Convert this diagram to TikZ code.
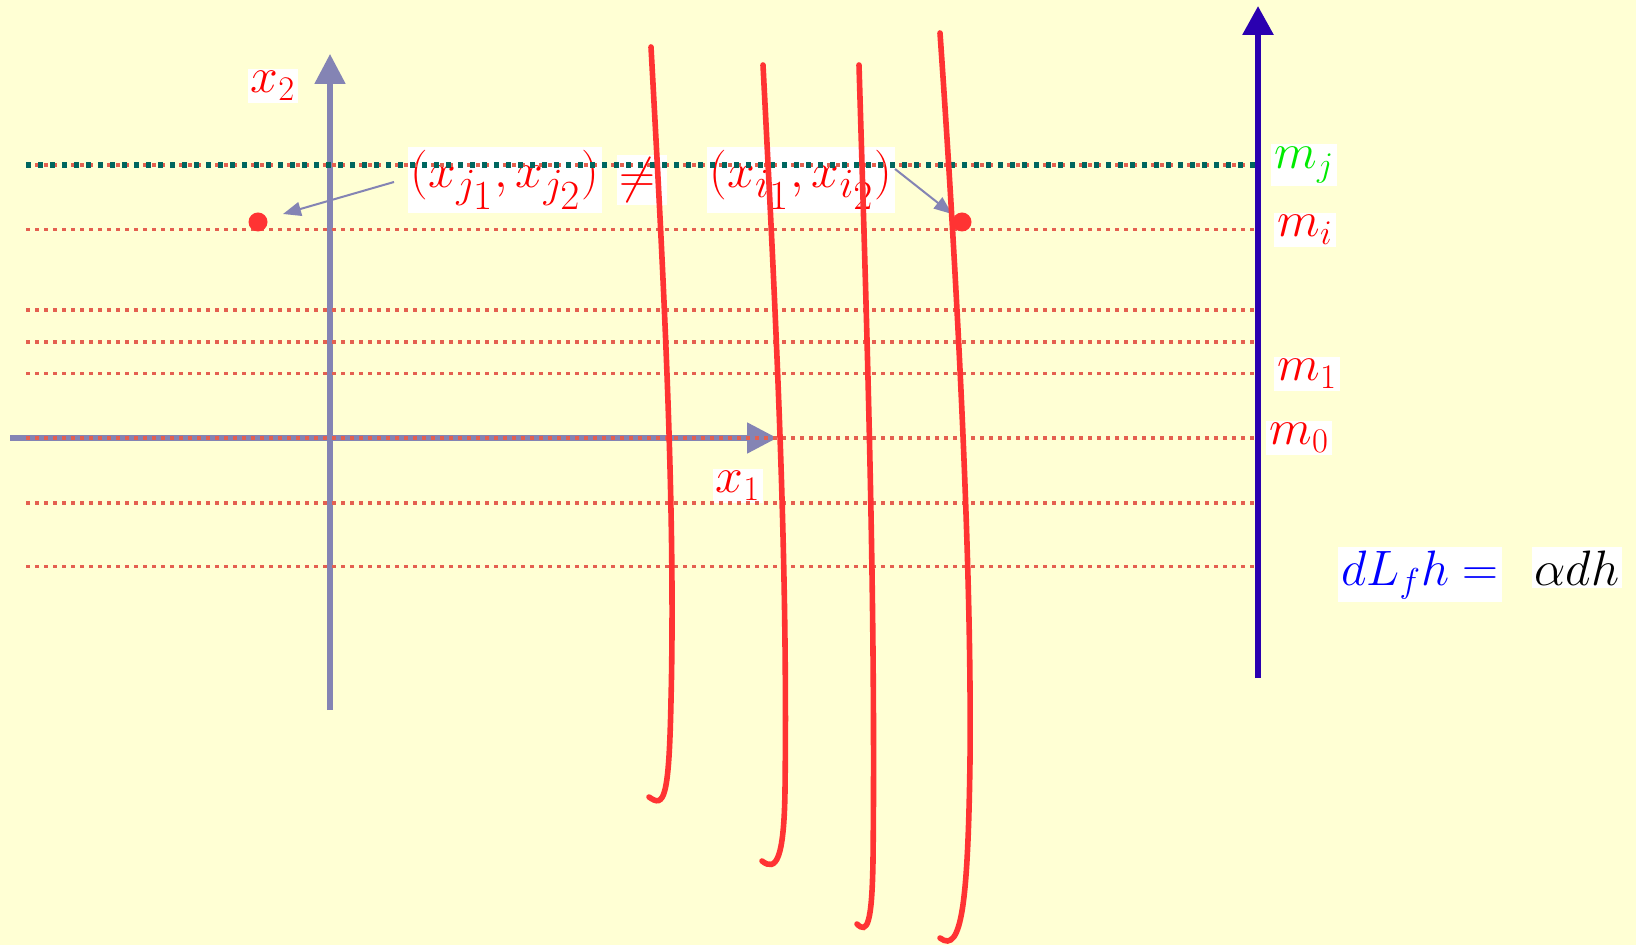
\documentclass[tikz,border=0pt]{standalone}
\usetikzlibrary{arrows.meta}
\definecolor{bg}{RGB}{255,255,212}
\definecolor{axisgray}{RGB}{132,132,180}
\definecolor{dotred}{RGB}{228,96,80}
\definecolor{tealdot}{RGB}{0,102,95}
\definecolor{curvered}{RGB}{255,51,51}
\definecolor{axisblue}{RGB}{42,0,176}
\definecolor{mgreen}{RGB}{0,235,0}
\begin{document}
\begin{tikzpicture}[x=0.5pt,y=-0.5pt,
  lbl/.style={fill=white,inner sep=1.5pt,font=\fontsize{25}{30}\selectfont},
  biglbl/.style={lbl,font=\fontsize{28}{33}\selectfont},
  level/.style={draw=dotred,line width=1.8pt,dash pattern=on 1.8pt off 2.7pt},
  tealline/.style={draw=tealdot,line width=2.6pt,dash pattern=on 2.6pt off 3.4pt},
  grayaxis/.style={draw=axisgray,line width=2.6pt,-{Triangle[length=15pt,width=15pt]}},
  blueaxis/.style={draw=axisblue,line width=3pt,-{Triangle[length=14.5pt,width=15pt]}},
  pointer/.style={draw=axisgray,line width=1pt,-{Triangle[length=9pt,width=7pt]}},
  surf/.style={draw=curvered,line width=2.8pt,line cap=round},
  pt/.style={circle,fill=curvered,inner sep=0pt,minimum size=9.5pt}]
\useasboundingbox[fill=bg] (0,0) rectangle (1636,945);

% coordinates
\coordinate (x1s) at (10,438);
\coordinate (x1e) at (777,438);
\coordinate (x2s) at (330,710);
\coordinate (x2e) at (330,54);
\coordinate (ms) at (1258,678);
\coordinate (me) at (1258,6);

% gray axes
\draw[grayaxis] (x1s) -- (x1e);
\draw[grayaxis] (x2s) -- (x2e);

% labels
\node[lbl,text=red] (lx2) at (273,86) {$x_2$};
\node[lbl,text=red] (lx1) at (738,486) {$x_1$};
\node[biglbl,text=red] (pj) at (505,180) {$(x_{j_{\scriptstyle 1}},x_{j_{\scriptstyle 2}})$};
\node[biglbl,text=red] (neq) at (642,180) {$\neq\,$};
\node[biglbl,text=red] (pi) at (801,180) {$(x_{i_{\scriptstyle 1}},x_{i_{\scriptstyle 2}})$};
\node[lbl,text=mgreen,anchor=west] (mj) at (1271,165) {$m_j$};
\node[lbl,text=red,anchor=west] (mi) at (1274,230) {$m_i$};
\node[lbl,text=red,anchor=west] (m1) at (1274,374) {$m_1$};
\node[lbl,text=red,anchor=west] (m0) at (1266,438) {$m_0$};
\node[lbl,text=blue,anchor=base] (eql) at (1420,585) {$dL_fh=$};
\node[lbl,text=black,anchor=base] (eqr) at (1577,585) {$\alpha dh$};

% level lines
\foreach \yy/\nm in {165/a,229.5/b,310/c,342/d,373.5/e,438/f,503/g,566.5/h}{
  \coordinate (L\nm) at (26,\yy);
  \coordinate (R\nm) at (1257,\yy);
  \draw[level] (L\nm) -- (R\nm);
}
\draw[tealline] (La) -- (Ra);

% blue axis
\draw[blueaxis] (ms) -- (me);

% points and pointers
\node[pt] (pa) at (258,222) {};
\node[pt] (pb) at (962,222) {};
\coordinate (sa) at (394,182);
\coordinate (ta) at (283,214);
\coordinate (sb) at (895,169);
\coordinate (tb) at (952,214);
\draw[pointer] (sa) -- (ta);
\draw[pointer] (sb) -- (tb);

% red curves
\coordinate (c1) at (651,47);
\coordinate (c2) at (763,65);
\coordinate (c3) at (859,65);
\coordinate (c4) at (940,33);
\draw[surf] (c1) .. controls (662,250) and (676,500) .. (671,700)
  .. controls (669,800) and (664,808) .. (649,797);
\draw[surf] (c2) .. controls (775,300) and (788,550) .. (785,790)
  .. controls (784,860) and (776,872) .. (762,861);
\draw[surf] (c3) .. controls (866,300) and (876,600) .. (873,860)
  .. controls (872,925) and (867,934) .. (857,924);
\draw[surf] (c4) .. controls (955,250) and (972,550) .. (970,760)
  .. controls (968,900) and (962,955) .. (940,938);
\end{tikzpicture}
\end{document}
